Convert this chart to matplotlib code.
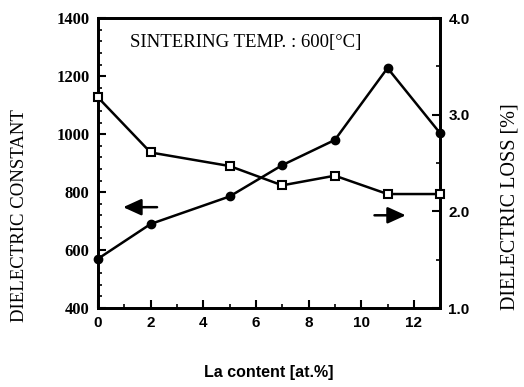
import matplotlib
matplotlib.use("Agg")
import matplotlib.pyplot as plt
from matplotlib.ticker import MultipleLocator

# La content [at.%]
la_content = [0, 2, 5, 7, 9, 11, 13]
# dielectric constant (left axis)
diel_const = [570, 690, 785, 893, 980, 1228, 1003]
# dielectric loss [%] (right axis)
diel_loss = [3.18, 2.61, 2.47, 2.27, 2.37, 2.18, 2.18]

x_ticks = [0, 2, 4, 6, 8, 10, 12]
left_ticks = [400, 600, 800, 1000, 1200, 1400]
right_ticks = [1.0, 2.0, 3.0, 4.0]

serif = "Liberation Serif"
sans = "Liberation Sans"

fig = plt.figure(figsize=(5.24, 3.87), dpi=100)
ax = fig.add_axes([0.187, 0.204, 0.653, 0.749])
ax2 = ax.twinx()

ax.plot(la_content, diel_const, color="black", lw=1.8, marker="o",
        ms=6, mfc="black", mec="black", clip_on=False, zorder=3)
ax2.plot(la_content, diel_loss, color="black", lw=1.8, marker="s",
         ms=6, mfc="white", mec="black", mew=1.5, clip_on=False, zorder=3)

ax.set_xlim(0, 13)
ax.set_ylim(400, 1400)
ax2.set_ylim(1.0, 4.0)

ax.set_xticks(x_ticks)
ax.set_xticklabels([str(v) for v in x_ticks], fontfamily=sans,
                   fontweight="bold", fontsize=11)
ax.xaxis.set_minor_locator(MultipleLocator(1))
ax.set_yticks(left_ticks)
ax.set_yticklabels([str(v) for v in left_ticks], fontfamily=serif,
                   fontweight="bold", fontsize=12)
ax.yaxis.set_minor_locator(MultipleLocator(40))
ax2.set_yticks(right_ticks)
ax2.set_yticklabels([f"{v:.1f}" for v in right_ticks], fontfamily=sans,
                    fontweight="bold", fontsize=11)
ax2.yaxis.set_minor_locator(MultipleLocator(0.5))

for a in (ax, ax2):
    a.tick_params(which="major", direction="in", length=6, width=1.5, pad=6)
    a.tick_params(which="minor", direction="in", length=3, width=1.2)
    for s in a.spines.values():
        s.set_linewidth(2)

ax.set_ylabel("DIELECTRIC CONSTANT", fontfamily=serif, fontsize=13.5)
ax.yaxis.set_label_coords(-0.205, 0.32)
ax2.set_ylabel("DIELECTRIC LOSS [%]", fontfamily=serif, fontsize=14.5,
               rotation=90)
ax2.yaxis.set_label_coords(1.175, 0.35)
ax.set_xlabel("La content [at.%]", fontfamily=sans, fontweight="bold",
              fontsize=11.5, labelpad=25)

ax.text(1.2, 1317, "SINTERING TEMP. : 600[\u00b0C]", fontfamily=serif,
        fontsize=13.5, va="center")

# direction arrows
arrow_style = dict(arrowstyle="-|>,head_length=1.1,head_width=0.5",
                   color="black", lw=1.8)
ax.annotate("", xy=(0.85, 748), xytext=(2.35, 748), arrowprops=arrow_style)
ax.annotate("", xy=(11.8, 720), xytext=(10.4, 720), arrowprops=arrow_style)

fig.savefig("out.png", dpi=100)
